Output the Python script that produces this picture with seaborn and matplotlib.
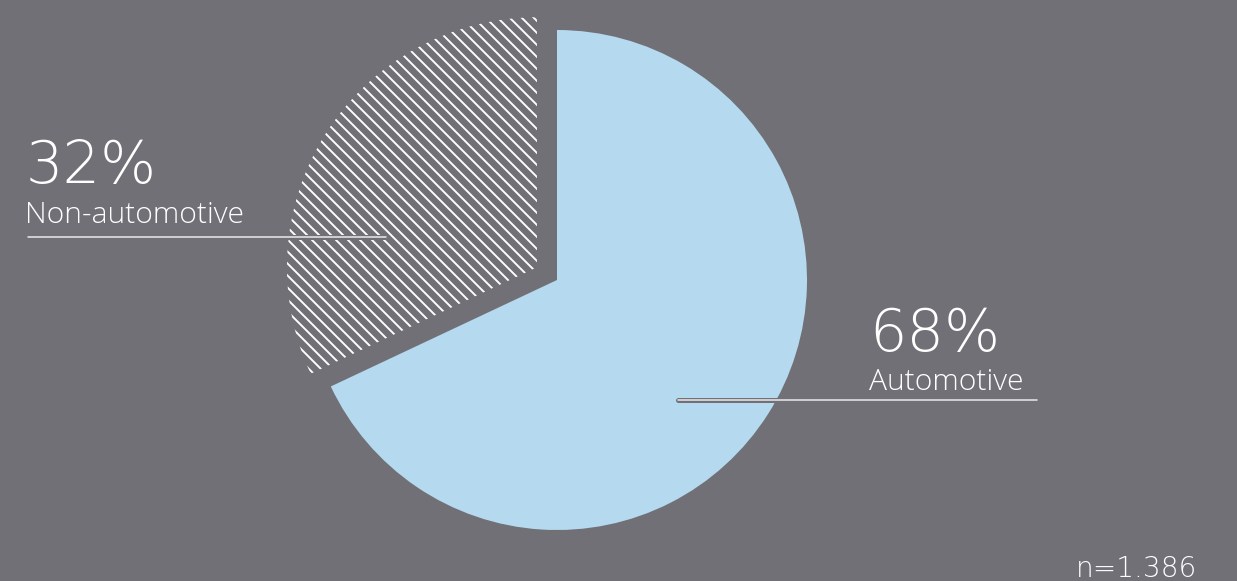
import matplotlib
matplotlib.use("Agg")
import matplotlib.pyplot as plt
import matplotlib.patheffects as pe
import seaborn as sns

# ---- data ----
categories = ["Automotive", "Non-automotive"]
shares = [68, 32]
pct_labels = ["68%", "32%"]
sample_note = "n=1.386"

BG = "#717076"
BLUE = "#b5d9ee"
LINE = "#e4e4e4"

sns.set_theme(style="white", rc={"figure.facecolor": BG, "axes.facecolor": BG})
plt.rcParams["font.family"] = ["DejaVu Sans"]
plt.rcParams["hatch.linewidth"] = 1.9
plt.rcParams["hatch.color"] = "white"

DPI = 72
W, H = 1237, 581
fig = plt.figure(figsize=(W / DPI, H / DPI), dpi=DPI, facecolor=BG)
ax = fig.add_axes([0, 0, 1, 1])
ax.set_facecolor(BG)

R = 250
wedges, _ = ax.pie(
    shares,
    colors=[BLUE, "none"],
    startangle=90,
    counterclock=False,
    explode=[0, 0.095 * R],
    center=(557, H - 280),
    radius=R,
    wedgeprops=dict(linewidth=0),
)
wedges[0].set_edgecolor("none")
wedges[1].set_facecolor("none")
wedges[1].set_edgecolor("white")
wedges[1].set_linewidth(0)
wedges[1].set_hatch("\\\\")

ax.set_xlim(0, W)
ax.set_ylim(0, H)
ax.set_aspect("equal")
ax.axis("off")

big_font = dict(family=["DejaVu Sans"], weight="light", size=59, color="white")
sub_font = dict(family=["Open Sans", "DejaVu Sans"], weight=300, size=30, color="white")

stroke = [pe.Stroke(linewidth=5, foreground=BG), pe.Normal()]

# Non-automotive label
ax.text(26, H - 183, pct_labels[1], va="baseline", ha="left", **big_font)
ax.text(25, H - 223, categories[1], va="baseline", ha="left", **sub_font)
ax.plot([28, 386], [H - 237, H - 237], color=LINE, lw=1.6,
        solid_capstyle="round", path_effects=stroke)

# Automotive label
ax.text(869, H - 351, pct_labels[0], va="baseline", ha="left", **big_font)
ax.text(869, H - 390, categories[0], va="baseline", ha="left", **sub_font)
ax.plot([678, 1037], [H - 400, H - 400], color=LINE, lw=1.6,
        solid_capstyle="round", path_effects=stroke)

# sample size
ax.text(1076, H - 577, sample_note, va="baseline", ha="left",
        family=["DejaVu Sans"], weight="light", size=28, color="white")

fig.savefig("out.png", dpi=DPI, facecolor=BG)
